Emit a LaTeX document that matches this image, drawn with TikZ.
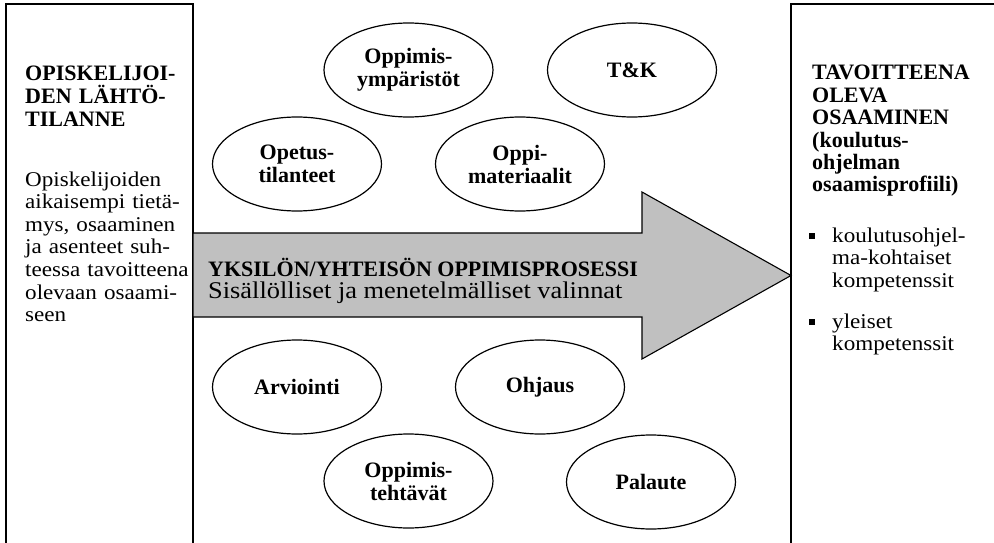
\documentclass[tikz,border=0pt]{standalone}
\usepackage{fontspec}
\setmainfont{Liberation Serif}
\newfontfamily\bodyfont{Liberation Serif}[FakeStretch=1.1]
\usepackage{tikz}
\usetikzlibrary{shapes.geometric}
\definecolor{arrowgray}{RGB}{192,192,192}

\begin{document}
\begin{tikzpicture}[x=1pt,y=-1pt,
    hdr/.style={anchor=base west,inner sep=0pt,align=left,font=\fontsize{22}{23}\selectfont\bfseries},
    bodytext/.style={anchor=base west,inner sep=0pt,align=left,font=\bodyfont\fontsize{21}{22.6}\selectfont},
    blob/.style={ellipse,draw,line width=1.2pt,minimum width=169pt,minimum height=94pt,inner sep=0pt,align=center,font=\fontsize{22}{23}\selectfont\bfseries},
    bulletbox/.style={rectangle,fill=black,minimum size=6pt,inner sep=0pt}]
        \useasboundingbox (0,0) rectangle (994,543);
        % Side boxes (open at the bottom)
        \draw[line width=1.3pt] (6,546) -- (6,4) -- (193,4) -- (193,546);
        \draw[line width=1.3pt] (791,546) -- (791,4) -- (997,4);
        % Big process arrow
        \filldraw[fill=arrowgray,draw=black,line width=1.1pt] (193,233) -- (642,233) -- (642,192)
            -- (791,275.5) -- (642,359) -- (642,317) -- (193,317) -- cycle;
        \node[hdr] (flowhead) at (208,276) {YKSILÖN/YHTEISÖN OPPIMISPROSESSI};
        \node[bodytext,font=\bodyfont\fontsize{24}{25}\selectfont] (flowsub) at (208,298.5) {Sisällölliset ja menetelmälliset valinnat};
        % Left box texts
        \node[hdr,text width=175pt] (starthead) at (25,81) {OPISKELIJOI-\\DEN LÄHTÖ-\\TILANNE};
        \node[bodytext,text width=175pt] (startbody) at (25,186) {Opiskelijoiden\\aikaisempi tietä-\\mys, osaaminen\\ja asenteet suh-\\teessa tavoitteena\\olevaan osaami-\\seen};
        % Right box texts
        \node[hdr,text width=180pt,font=\fontsize{22}{22.4}\selectfont\bfseries] (goalhead) at (812,80) {TAVOITTEENA\\OLEVA\\OSAAMINEN\\(koulutus-\\ohjelman\\osaamisprofiili)};
        \node[bulletbox] (dot1) at (811.5,236) {};
        \node[bodytext,text width=160pt] (goal1) at (832,242) {koulutusohjel-\\ma-kohtaiset\\kompetenssit};
        \node[bulletbox] (dot2) at (811.5,322) {};
        \node[bodytext,text width=160pt] (goal2) at (832,328) {yleiset\\kompetenssit};
        % Ellipses above the arrow
        \node[blob] (environ) at (408.5,70) {Oppimis-\\ympäristöt};
        \node[blob] (rnd) at (632,70) {T\&K};
        \node[blob] (teaching) at (297,164) {Opetus-\\tilanteet};
        \node[blob] (material) at (520,164) {Oppi-\\materiaalit};
        % Ellipses below the arrow
        \node[blob] (assess) at (297,387) {Arviointi};
        \node[blob] (guidance) at (540,387) {Ohjaus};
        \node[blob] (tasks) at (408.5,481) {Oppimis-\\tehtävät};
        \node[blob] (feedback) at (651,482) {Palaute};
\end{tikzpicture}
\end{document}
